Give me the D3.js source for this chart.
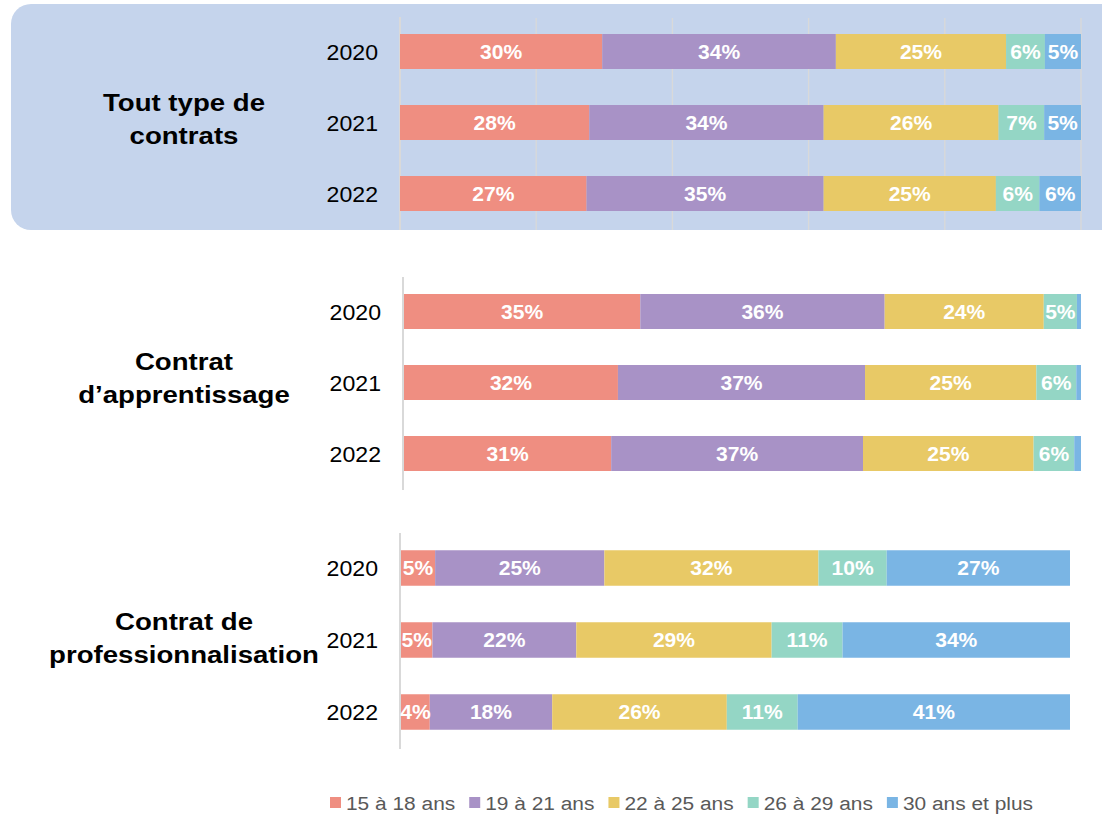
<!DOCTYPE html>
<html>
<head>
<meta charset="utf-8">
<script src="https://cdn.jsdelivr.net/npm/d3@7"></script>
<style>
  html, body { margin: 0; padding: 0; background: #ffffff; }
  svg { display: block; }
</style>
</head>
<body>
<svg id="chart" width="1102" height="816"></svg>
<script>
// ---------- DATA ----------
const years = ["2020", "2021", "2022"];
const ageGroups = ["15 à 18 ans", "19 à 21 ans", "22 à 25 ans", "26 à 29 ans", "30 ans et plus"];
const groupColors = ["#EF8E81", "#A892C6", "#E8C966", "#94D6C5", "#7AB5E4"];

const panelTitles = [
  ["Tout type de", "contrats"],
  ["Contrat", "d\u2019apprentissage"],
  ["Contrat de", "professionnalisation"]
];

// share (%) by age group, one row per year
const toutTypeValues = [
  [29.7, 34.3, 25.0, 5.7, 5.3],
  [27.8, 34.4, 25.7, 6.7, 5.4],
  [27.4, 34.8, 25.3, 6.4, 6.1]
];
const apprentissageValues = [
  [34.9, 36.1, 23.5, 4.9, 0.6],
  [31.6, 36.5, 25.3, 5.9, 0.7],
  [30.6, 37.2, 25.2, 6.0, 1.0]
];
const professionnalisationValues = [
  [5.1, 25.3, 32.0, 10.2, 27.4],
  [4.7, 21.5, 29.2, 10.6, 34.0],
  [4.3, 18.3, 26.1, 10.6, 40.7]
];
const gridTicks = [0, 20, 40, 60, 80, 100];

// ---------- LAYOUT ----------
const FONT = "'Liberation Sans', Arial, Helvetica, sans-serif";
const svg = d3.select("#chart");

const panels = [
  { values: toutTypeValues, title: panelTitles[0], x0: 400, x1: 1081, y0: 16, y1: 229,
    axisX: 400, yearRight: 378, titleY: 111, bg: true, grid: true },
  { values: apprentissageValues, title: panelTitles[1], x0: 404, x1: 1081, y0: 276, y1: 489,
    axisX: 403, yearRight: 381, titleY: 370, bg: false, grid: false },
  { values: professionnalisationValues, title: panelTitles[2], x0: 401, x1: 1070, y0: 532, y1: 748,
    axisX: 400, yearRight: 378, titleY: 630, bg: false, grid: false }
];

// background of first panel
svg.append("rect")
  .attr("x", 11).attr("y", 4)
  .attr("width", 1115).attr("height", 226)
  .attr("rx", 20).attr("ry", 20)
  .attr("fill", "#C5D4EC");

function stretchedText(g, x, y, txt, size, weight, fill, sx, anchor) {
  return g.append("text")
    .attr("transform", `translate(${x},${y}) scale(${sx},1)`)
    .attr("text-anchor", anchor)
    .attr("font-family", FONT)
    .attr("font-size", size)
    .attr("font-weight", weight)
    .attr("fill", fill)
    .text(txt);
}

panels.forEach(p => {
  const g = svg.append("g");
  const x = d3.scaleLinear().domain([0, 100]).range([p.x0, p.x1]);
  const y = d3.scaleBand().domain(years).range([p.y0, p.y1])
    .paddingInner(0.507).paddingOuter(0.2535);

  // gridlines
  if (p.grid) {
    g.append("g").selectAll("line").data(gridTicks).join("line")
      .attr("x1", d => x(d)).attr("x2", d => x(d))
      .attr("y1", p.y0 + 2).attr("y2", p.y1 + 1)
      .attr("stroke", "#D9D9D9").attr("stroke-width", 1.3);
  }
  // category axis line
  g.append("line")
    .attr("x1", p.axisX).attr("x2", p.axisX)
    .attr("y1", p.y0 + 1).attr("y2", p.y1 + 1)
    .attr("stroke", "#D9D9D9").attr("stroke-width", 2);

  // stacked bars
  const rows = years.map((yr, i) => {
    let cum = 0;
    return p.values[i].map((v, k) => {
      const seg = { year: yr, k, v, start: cum, end: cum + v };
      cum += v;
      return seg;
    });
  }).flat();

  g.append("g").selectAll("rect").data(rows).join("rect")
    .attr("x", d => x(d.start))
    .attr("y", d => y(d.year))
    .attr("width", d => Math.max(0, x(d.end) - x(d.start)))
    .attr("height", y.bandwidth())
    .attr("fill", d => groupColors[d.k]);

  // value labels
  g.append("g").selectAll("text").data(rows.filter(d => d.v >= 2)).join("text")
    .attr("transform", d => `translate(${(x(d.start) + x(d.end)) / 2},${y(d.year) + y.bandwidth() / 2 + 7}) scale(1.08,1)`)
    .attr("text-anchor", "middle")
    .attr("font-family", FONT)
    .attr("font-size", 19.5)
    .attr("font-weight", "bold")
    .attr("fill", "#ffffff")
    .text(d => Math.round(d.v) + "%");

  // year labels
  years.forEach(yr => {
    stretchedText(g, p.yearRight, y(yr) + y.bandwidth() / 2 + 8, yr, 22, "normal", "#000000", 1.05, "end");
  });

  // panel title
  p.title.forEach((line, li) => {
    stretchedText(g, 184, p.titleY + li * 33, line, 24, "bold", "#000000", 1.15, "middle");
  });
});

// ---------- LEGEND ----------
const legend = svg.append("g");
let lx = 330;
const legendY = 803;
ageGroups.forEach((name, k) => {
  legend.append("rect")
    .attr("x", lx).attr("y", legendY - 6)
    .attr("width", 11).attr("height", 11)
    .attr("fill", groupColors[k]);
  const t = stretchedText(legend, lx + 16, legendY + 7, name, 19, "normal", "#595959", 1.1, "start");
  const w = t.node().getComputedTextLength() * 1.1;
  lx += 16 + w + 14;
});
</script>
</body>
</html>
